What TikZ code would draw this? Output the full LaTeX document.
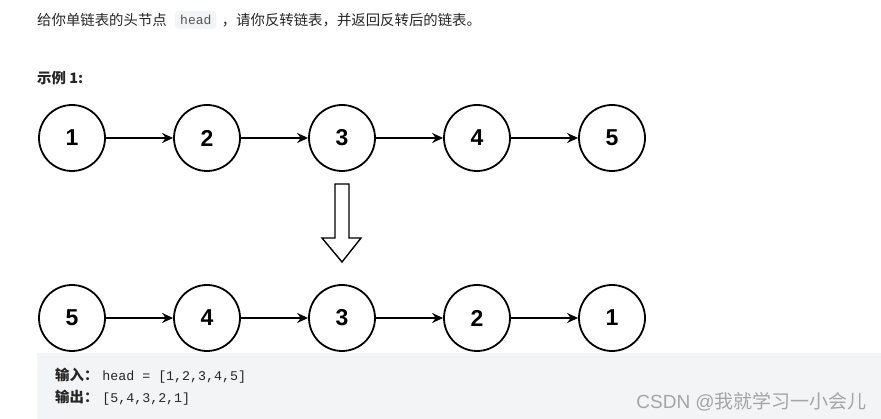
\documentclass[tikz,border=0pt]{standalone}
\usepackage{fontspec}
\setmainfont{Liberation Sans}
\setmonofont{Liberation Mono}
\newfontfamily\cjk{Noto Sans CJK SC}
\usepackage{tikz}
\usetikzlibrary{arrows.meta,positioning}
\usepackage{xcolor}
\definecolor{codebg}{RGB}{243,244,245}
\definecolor{textdark}{RGB}{38,38,38}
\definecolor{headgray}{RGB}{85,85,85}
\definecolor{markgray}{RGB}{165,165,165}

\begin{document}
\begin{tikzpicture}[x=1pt, y=-1pt,
    listnode/.style={draw, circle, line width=1.8pt, minimum size=66pt, inner sep=0pt,
      fill=white, font=\fontsize{23}{23}\selectfont\bfseries},
    link/.style={-{Stealth[length=11pt,width=10pt]}, line width=1.4pt},
    zh/.style={inner sep=0pt, text=textdark, font=\fontsize{14.4}{16}\selectfont\cjk}]
    \useasboundingbox (0,0) rectangle (881,419);
    % problem statement
    \node[zh, anchor=west] (txt1) at (37,20) {给你单链表的头节点};
    \node[right=8pt of txt1, fill=codebg, rounded corners=3pt, inner xsep=5pt, minimum height=18pt,
      text=headgray, font=\fontsize{13}{13}\selectfont\ttfamily] (headbox) {head};
    \node[zh, right=5pt of headbox] (txt2) {，请你反转链表，并返回反转后的链表。};
    \node[zh, anchor=west, font=\fontsize{14.4}{16}\selectfont\cjk\bfseries] (example) at (37,78) {示例 1:};
    % input list
    \node[listnode] (a1) at (72,138) {1};
    \node[listnode] (a2) at (207,138) {2};
    \node[listnode] (a3) at (342,138) {3};
    \node[listnode] (a4) at (477,138) {4};
    \node[listnode] (a5) at (612,138) {5};
    \draw[link] (a1) -- (a2);
    \draw[link] (a2) -- (a3);
    \draw[link] (a3) -- (a4);
    \draw[link] (a4) -- (a5);
    % hollow down arrow
    \draw[line width=1.4pt, fill=white] (335,184) -- (349,184) -- (349,238) -- (361,238)
      -- (342,262) -- (322,238) -- (335,238) -- cycle;
    % output panel
    \fill[codebg] (37,353) rectangle (881,419);
    % reversed list
    \node[listnode] (b1) at (72,318) {5};
    \node[listnode] (b2) at (207,318) {4};
    \node[listnode] (b3) at (342,318) {3};
    \node[listnode] (b4) at (477,318) {2};
    \node[listnode] (b5) at (612,318) {1};
    \draw[link] (b1) -- (b2);
    \draw[link] (b2) -- (b3);
    \draw[link] (b3) -- (b4);
    \draw[link] (b4) -- (b5);
    \node[zh, anchor=west] (input) at (55,376)
      {{\bfseries 输入：}\hspace{4pt}{\fontsize{13.3}{13}\selectfont\ttfamily head = [1,2,3,4,5]}};
    \node[zh, anchor=west] (output) at (55,398)
      {{\bfseries 输出：}\hspace{4pt}{\fontsize{13.3}{13}\selectfont\ttfamily [5,4,3,2,1]}};
    \node[anchor=east, inner sep=0pt, text=markgray, font=\fontsize{19}{19}\selectfont] (mark) at (867,402)
      {CSDN @{\cjk 我就学习一小会儿}};
\end{tikzpicture}
\end{document}
